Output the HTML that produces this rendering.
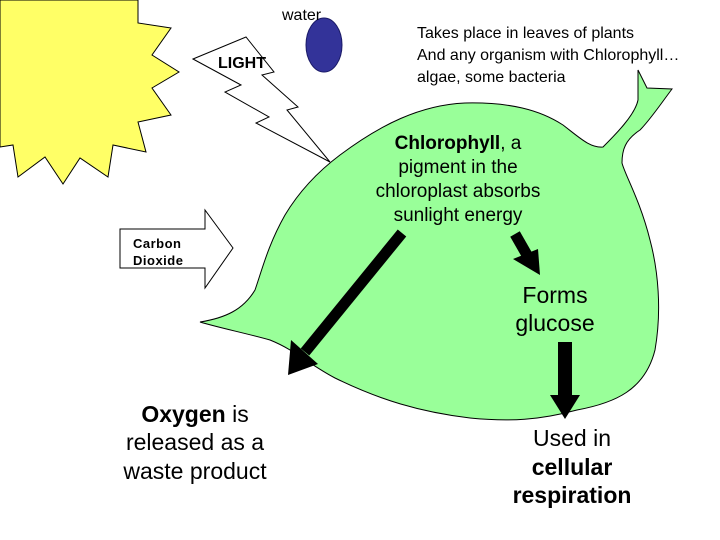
<!DOCTYPE html>
<html><head><meta charset="utf-8"><style>
html,body{margin:0;padding:0;background:#fff;width:720px;height:540px;overflow:hidden}
svg{display:block}
text{font-family:"Liberation Sans",Arial,sans-serif;fill:#000}
</style></head><body>
<svg width="720" height="540" viewBox="0 0 720 540" xmlns="http://www.w3.org/2000/svg">
<!-- sun -->
<polygon points="0,0 138,0 138,23 171,28 152,55 179,72 152,88 171,115 138,122 146,152 113,145 108,177 80,158 63,184 45,157 18,177 13,145 0,147" fill="#ffff66" stroke="#000" stroke-width="1"/>
<!-- lightning -->
<polygon points="193,59 246,37 274,72 262,75 298,107 287,110 330,162 256,123 269,117 225,92 241,85" fill="#fff" stroke="#000" stroke-width="1"/>
<!-- water -->
<ellipse cx="324" cy="45" rx="18" ry="27" fill="#333399" stroke="#1a1a66" stroke-width="1"/>
<text x="282" y="20" font-size="16">water</text>
<text x="218" y="68" font-size="16" font-weight="bold">LIGHT</text>
<!-- CO2 arrow -->
<polygon points="120,229 205,229 205,210 233,248 205,288 205,268 120,268" fill="#fff" stroke="#000" stroke-width="1"/>
<text x="133" y="248" font-size="13" font-weight="bold" letter-spacing="0.5">Carbon</text>
<text x="133" y="265" font-size="13" font-weight="bold" letter-spacing="0.5">Dioxide</text>
<!-- leaf -->
<path d="M200,322 C225,318 243,310 255,290 C262,270 268,245 285,215 C300,190 320,170 340,155 C380,125 420,105 465,103 C510,102 540,110 563,125 C580,138 590,148 603,147 C615,135 635,115 638,100 C638,85 638,75 638,70 L647,88 L672,89 C660,105 650,120 640,130 C625,140 622,150 622,163 C625,175 640,200 650,240 C658,270 662,310 655,350 C645,390 615,403 577,410 C540,420 510,422 470,418 C420,412 380,400 335,378 C310,365 295,350 270,340 C245,333 220,328 200,322 Z" fill="#99ff99" stroke="#000" stroke-width="1"/>
<!-- arrows -->
<line x1="402" y1="233" x2="305" y2="352" stroke="#000" stroke-width="11"/>
<polygon points="288,375 291,340 318,364" fill="#000"/>
<line x1="515" y1="234" x2="527" y2="255" stroke="#000" stroke-width="11"/>
<polygon points="540,275 513,259 538,249" fill="#000"/>
<rect x="558" y="342" width="14" height="55" fill="#000"/>
<polygon points="550,395 580,395 565,419" fill="#000"/>
<!-- text -->
<text x="417" y="38" font-size="16">Takes place in leaves of plants</text>
<text x="417" y="60" font-size="16">And any organism with Chlorophyll…</text>
<text x="417" y="82" font-size="16">algae, some bacteria</text>
<g font-size="19" text-anchor="middle">
<text x="458" y="149"><tspan font-weight="bold">Chlorophyll</tspan>, a</text>
<text x="458" y="173">pigment in the</text>
<text x="458" y="197">chloroplast absorbs</text>
<text x="458" y="221">sunlight energy</text>
</g>
<g font-size="23" text-anchor="middle">
<text x="555" y="303">Forms</text>
<text x="555" y="331">glucose</text>
<text x="195" y="422"><tspan font-weight="bold">Oxygen</tspan> is</text>
<text x="195" y="450">released as a</text>
<text x="195" y="479">waste product</text>
<text x="572" y="446">Used in</text>
<text x="572" y="475" font-weight="bold">cellular</text>
<text x="572" y="503" font-weight="bold">respiration</text>
</g>
</svg>
</body></html>
